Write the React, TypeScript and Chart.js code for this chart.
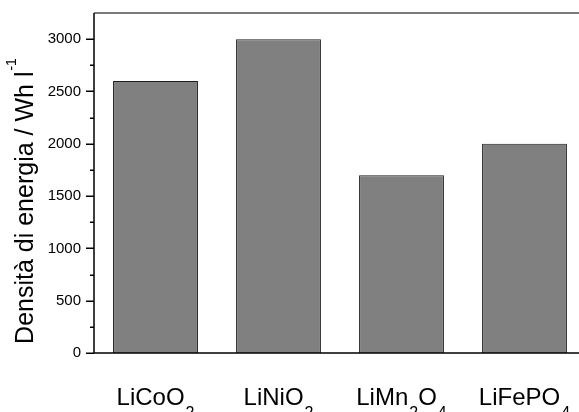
import React, { useEffect, useRef } from 'react';
import { Chart, registerables } from 'chart.js';

Chart.register(...registerables);

const categories = ['LiCoO2', 'LiNiO2', 'LiMn2O4', 'LiFePO4'];
const energyDensity = [2600, 3000, 1700, 2000];
const yMax = 3250;
const yMajorStep = 500;
const yMinorStep = 250;
const yTickTop = 3000;
const yTitleMain = 'Densità di energia / Wh l';
const yTitleSup = '-1';

const FONT = '"Liberation Sans", Arial, Helvetica, sans-serif';

function splitFormula(s: string): { t: string; sub: boolean }[] {
  const out: { t: string; sub: boolean }[] = [];
  for (const ch of s) {
    const sub = /[0-9]/.test(ch);
    const last = out[out.length - 1];
    if (last && last.sub === sub) last.t += ch;
    else out.push({ t: ch, sub });
  }
  return out;
}

const decorPlugin = {
  id: 'decor',
  afterDraw(chart: any) {
    const ctx = chart.ctx as CanvasRenderingContext2D;
    const area = chart.chartArea;
    const xs = chart.scales.x;
    const ys = chart.scales.y;
    ctx.save();

    // top frame line (gray)
    ctx.strokeStyle = '#7a7a7a';
    ctx.lineWidth = 2;
    ctx.beginPath();
    ctx.moveTo(area.left, area.top);
    ctx.lineTo(area.right, area.top);
    ctx.stroke();

    // left and bottom axes
    ctx.strokeStyle = '#000';
    ctx.lineWidth = 1.5;
    ctx.beginPath();
    ctx.moveTo(area.left, area.top);
    ctx.lineTo(area.left, area.bottom);
    ctx.lineTo(area.right, area.bottom);
    ctx.stroke();

    // y ticks, major and minor
    ctx.lineWidth = 1.5;
    for (let v = 0; v <= yTickTop; v += yMinorStep) {
      const y = Math.round(ys.getPixelForValue(v)) + 0.25;
      const len = v % yMajorStep === 0 ? 8 : 4;
      ctx.beginPath();
      ctx.moveTo(area.left - len, y);
      ctx.lineTo(area.left, y);
      ctx.stroke();
    }

    // x category labels with subscripts
    ctx.fillStyle = '#000';
    ctx.textBaseline = 'alphabetic';
    ctx.textAlign = 'left';
    const bigFont = `24px ${FONT}`;
    const subFont = `16px ${FONT}`;
    categories.forEach((label, i) => {
      const parts = splitFormula(label);
      let total = 0;
      parts.forEach((p) => {
        ctx.font = p.sub ? subFont : bigFont;
        total += ctx.measureText(p.t).width + (p.sub ? 1 : 0);
      });
      let x = xs.getPixelForValue(i) - total / 2;
      const base = 405;
      parts.forEach((p) => {
        ctx.font = p.sub ? subFont : bigFont;
        if (p.sub) x += 1;
        ctx.fillText(p.t, x, p.sub ? base + 13 : base);
        x += ctx.measureText(p.t).width;
      });
    });

    // y title with superscript
    ctx.save();
    ctx.font = `25px ${FONT}`;
    const wMain = ctx.measureText(yTitleMain).width;
    ctx.font = `14px ${FONT}`;
    const wSup = ctx.measureText(yTitleSup).width;
    const totalW = wMain + wSup + 1;
    const cy = 201;
    ctx.translate(33, cy + totalW / 2);
    ctx.rotate(-Math.PI / 2);
    ctx.font = `25px ${FONT}`;
    ctx.fillText(yTitleMain, 0, 0);
    ctx.font = `14px ${FONT}`;
    ctx.fillText(yTitleSup, wMain + 1, -17);
    ctx.restore();

    ctx.restore();
  },
};

export default function App() {
  const ref = useRef<HTMLCanvasElement | null>(null);
  useEffect(() => {
    if (!ref.current) return;
    const chart = new Chart(ref.current, {
      type: 'bar',
      data: {
        labels: categories,
        datasets: [
          {
            data: energyDensity,
            backgroundColor: '#808080',
            borderColor: '#1e1e1e',
            borderWidth: 1,
            barPercentage: 0.69,
            categoryPercentage: 1.0,
          },
        ],
      },
      options: {
        animation: false,
        responsive: true,
        maintainAspectRatio: false,
        layout: { padding: { top: 13, left: 0, right: 0, bottom: 0 } },
        plugins: { legend: { display: false }, tooltip: { enabled: false }, title: { display: false } },
        scales: {
          x: {
            grid: { display: false, drawTicks: false },
            border: { display: false },
            ticks: { display: false },
            afterFit: (s: any) => {
              s.height = 59;
              s.paddingLeft = 0;
              s.paddingRight = 0;
            },
          },
          y: {
            min: 0,
            max: yMax,
            grid: { display: false, drawTicks: false },
            border: { display: false },
            ticks: {
              stepSize: yMinorStep,
              padding: 13,
              color: '#000',
              font: { family: FONT, size: 15 },
              callback: (v: any) => (Number(v) % yMajorStep === 0 && Number(v) <= yTickTop ? String(v) : ''),
            },
            afterFit: (s: any) => {
              s.width = 94;
              s.paddingTop = 0;
              s.paddingBottom = 0;
            },
          },
        },
      },
      plugins: [decorPlugin],
    });
    return () => chart.destroy();
  }, []);

  return (
    <div style={{ position: 'fixed', left: 0, top: 0, width: 579, height: 412, overflow: 'hidden', background: '#fff' }}>
      <div style={{ position: 'relative', width: 586, height: 412 }}>
        <canvas ref={ref} />
      </div>
    </div>
  );
}
